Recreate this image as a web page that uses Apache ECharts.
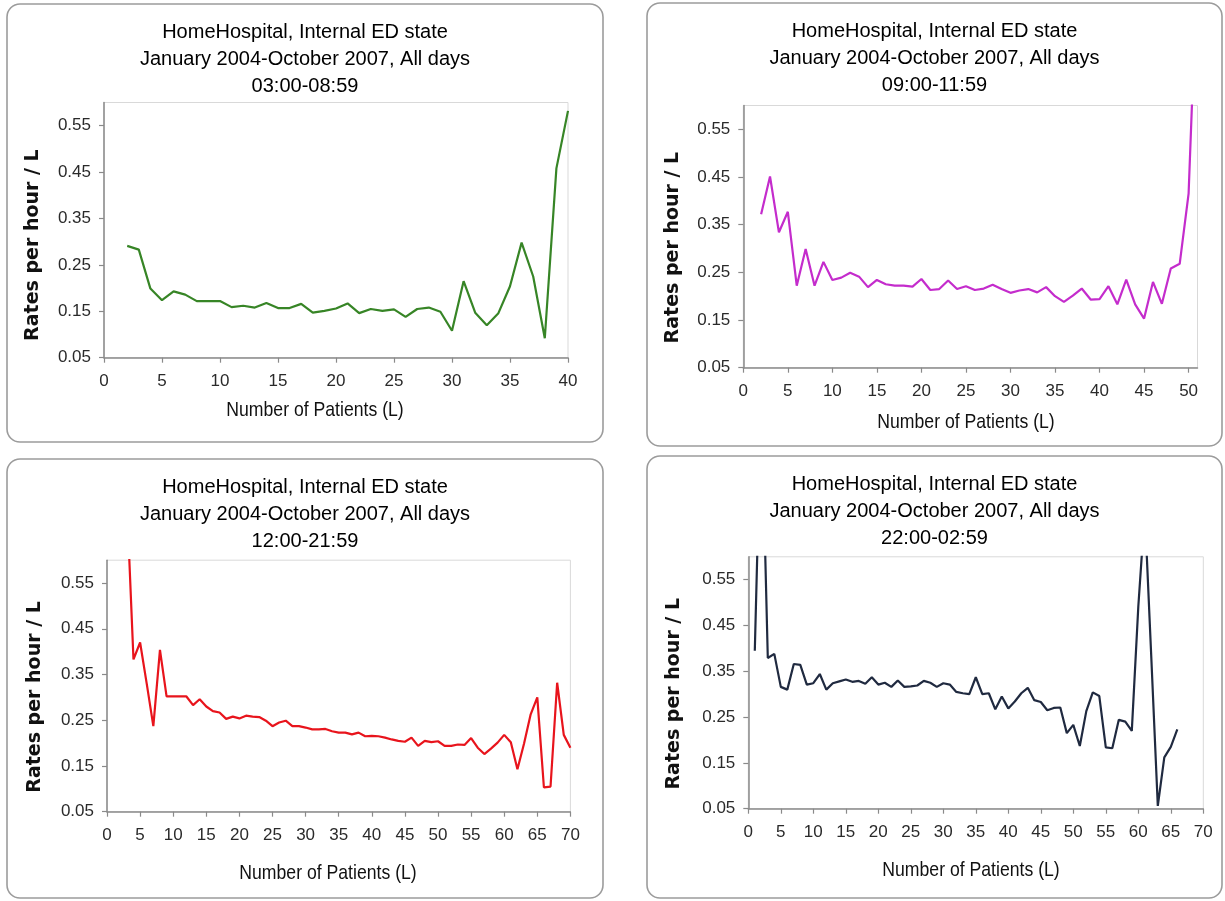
<!DOCTYPE html>
<html>
<head>
<meta charset="utf-8">
<script src="https://cdn.jsdelivr.net/npm/echarts@6/dist/echarts.min.js"></script>
<style>
  html, body { margin: 0; padding: 0; background: #ffffff; }
  #chart { width: 1225px; height: 901px; }
</style>
</head>
<body>
<div id="chart"></div>
<script>
// Shared text
const titleLine1 = 'HomeHospital, Internal ED state';
const titleLine2 = 'January 2004-October 2007, All days';
const shiftLabels = ['03:00-08:59', '09:00-11:59', '12:00-21:59', '22:00-02:59'];
const xAxisTitle = 'Number of Patients (L)';
const yAxisTitle = 'Rates per hour / L';

// Tick positions
const yTickValues = [0.05, 0.15, 0.25, 0.35, 0.45, 0.55];
const xTicks40 = [0, 5, 10, 15, 20, 25, 30, 35, 40];
const xTicks50 = [0, 5, 10, 15, 20, 25, 30, 35, 40, 45, 50];
const xTicks70 = [0, 5, 10, 15, 20, 25, 30, 35, 40, 45, 50, 55, 60, 65, 70];

// 03:00-08:59
const patientsEarly = [2, 3, 4, 5, 6, 7, 8, 9, 10, 11, 12, 13, 14, 15, 16, 17, 18, 19, 20,
  21, 22, 23, 24, 25, 26, 27, 28, 29, 30, 31, 32, 33, 34, 35, 36, 37, 38, 39, 40];
const ratesEarly = [0.291, 0.283, 0.199, 0.174, 0.193, 0.186, 0.172, 0.172, 0.172, 0.159,
  0.162, 0.158, 0.168, 0.157, 0.157, 0.166, 0.147, 0.151, 0.156, 0.167,
  0.146, 0.155, 0.151, 0.154, 0.138, 0.155, 0.158, 0.149, 0.108, 0.215,
  0.147, 0.120, 0.146, 0.204, 0.298, 0.225, 0.092, 0.458, 0.582];

// 09:00-11:59
const patientsMorning = [2, 3, 4, 5, 6, 7, 8, 9, 10, 11, 12, 13, 14, 15, 16, 17, 18, 19, 20,
  21, 22, 23, 24, 25, 26, 27, 28, 29, 30, 31, 32, 33, 34, 35, 36, 37, 38, 39, 40,
  41, 42, 43, 44, 45, 46, 47, 48, 49, 50, 51];
const ratesMorning = [0.372, 0.451, 0.334, 0.377, 0.222, 0.299, 0.222, 0.272, 0.234, 0.239,
  0.249, 0.241, 0.219, 0.234, 0.225, 0.222, 0.222, 0.220, 0.236, 0.213,
  0.215, 0.233, 0.215, 0.221, 0.213, 0.216, 0.224, 0.215, 0.207, 0.212,
  0.215, 0.208, 0.219, 0.200, 0.188, 0.201, 0.216, 0.193, 0.194, 0.221,
  0.183, 0.235, 0.183, 0.153, 0.230, 0.184, 0.258, 0.268, 0.415, 0.910];

// 12:00-21:59
const patientsDay = [3, 4, 5, 6, 7, 8, 9, 10, 11, 12, 13, 14, 15, 16, 17, 18, 19, 20,
  21, 22, 23, 24, 25, 26, 27, 28, 29, 30, 31, 32, 33, 34, 35, 36, 37, 38, 39, 40,
  41, 42, 43, 44, 45, 46, 47, 48, 49, 50, 51, 52, 53, 54, 55, 56, 57, 58, 59, 60,
  61, 62, 63, 64, 65, 66, 67, 68, 69, 70];
const ratesDay = [0.730, 0.383, 0.420, 0.330, 0.237, 0.404, 0.302, 0.302, 0.302, 0.302,
  0.283, 0.296, 0.280, 0.270, 0.267, 0.253, 0.258, 0.254, 0.260, 0.258,
  0.257, 0.249, 0.237, 0.245, 0.249, 0.237, 0.237, 0.234, 0.230, 0.230,
  0.231, 0.226, 0.223, 0.223, 0.219, 0.223, 0.215, 0.216, 0.215, 0.212,
  0.208, 0.205, 0.203, 0.212, 0.194, 0.205, 0.202, 0.204, 0.194, 0.194,
  0.197, 0.196, 0.211, 0.190, 0.176, 0.188, 0.201, 0.218, 0.202, 0.143,
  0.199, 0.263, 0.300, 0.103, 0.105, 0.332, 0.218, 0.190];

// 22:00-02:59
const patientsNight = [1, 2, 3, 4, 5, 6, 7, 8, 9, 10, 11, 12, 13, 14, 15, 16, 17, 18, 19, 20,
  21, 22, 23, 24, 25, 26, 27, 28, 29, 30, 31, 32, 33, 34, 35, 36, 37, 38, 39, 40,
  41, 42, 43, 44, 45, 46, 47, 48, 49, 50, 51, 52, 53, 54, 55, 56, 57, 58, 59, 60,
  61, 62, 63, 64, 65, 66];
const ratesNight = [0.395, 0.950, 0.379, 0.388, 0.316, 0.310, 0.366, 0.364, 0.321, 0.324,
  0.344, 0.310, 0.324, 0.328, 0.332, 0.327, 0.329, 0.323, 0.337, 0.321,
  0.325, 0.316, 0.330, 0.316, 0.317, 0.319, 0.329, 0.325, 0.316, 0.324,
  0.321, 0.305, 0.302, 0.300, 0.337, 0.300, 0.302, 0.267, 0.295, 0.269,
  0.284, 0.302, 0.314, 0.287, 0.283, 0.265, 0.270, 0.271, 0.215, 0.233,
  0.187, 0.263, 0.304, 0.296, 0.184, 0.182, 0.244, 0.240, 0.220, 0.491,
  0.700, 0.380, 0.056, 0.162, 0.185, 0.223];

const SANS = "'Liberation Sans', Arial, sans-serif";

// Panel layout: frame box, plot box, axis range, colour, x-axis title centre
const panels = [
  { frame: [7, 4, 596, 438], grid: [104, 102.5, 464, 255.2], xMax: 40, xTicks: xTicks40,
    patients: patientsEarly, rates: ratesEarly, color: '#378526', yGap: 61, yShift: 30, xName: [315, 410] },
  { frame: [647, 3, 575, 443], grid: [743.3, 105.5, 454.2, 262.2], xMax: 51, xTicks: xTicks50,
    patients: patientsMorning, rates: ratesMorning, color: '#c42ccc', yGap: 61, yShift: 22, xName: [966, 422] },
  { frame: [7, 459, 596, 439], grid: [107, 560.2, 463.4, 251.5], xMax: 70, xTicks: xTicks70,
    patients: patientsDay, rates: ratesDay, color: '#e8141c', yGap: 62, yShift: 22, xName: [328, 873] },
  { frame: [647, 456, 575, 442], grid: [748.3, 556.8, 455, 251.9], xMax: 70, xTicks: xTicks70,
    patients: patientsNight, rates: ratesNight, color: '#202a40', yGap: 65, yShift: 22, xName: [971, 870] }
];

const chart = echarts.init(document.getElementById('chart'), null, { renderer: 'canvas' });

// Rounded panel frames
const frameGraphics = panels.map(p => ({
  type: 'rect',
  shape: { x: p.frame[0], y: p.frame[1], width: p.frame[2], height: p.frame[3], r: 13 },
  style: { fill: '#ffffff', stroke: '#9c9c9c', lineWidth: 1.6 },
  z: -10
}));

// Condensed x-axis titles
const xTitleGraphics = panels.map(p => ({
  type: 'text',
  x: p.xName[0], y: p.xName[1],
  scaleX: 0.84,
  style: {
    text: xAxisTitle, fontFamily: SANS, fontSize: 21, fill: '#111111',
    align: 'center', verticalAlign: 'middle'
  },
  z: 10
}));

const option = {
  animation: false,
  backgroundColor: '#ffffff',
  graphic: frameGraphics.concat(xTitleGraphics),
  title: panels.map((p, i) => ({
    text: titleLine1 + '\n' + titleLine2 + '\n' + shiftLabels[i],
    left: p.frame[0] + p.frame[2] / 2,
    top: p.frame[1] + 15,
    textAlign: 'center',
    padding: 0,
    textStyle: { fontFamily: SANS, fontSize: 20, fontWeight: 'normal', color: '#000000', lineHeight: 27 }
  })),
  grid: panels.map(p => ({
    left: p.grid[0], top: p.grid[1], width: p.grid[2], height: p.grid[3],
    show: true, borderColor: '#d9d9d9', borderWidth: 1, backgroundColor: 'transparent'
  })),
  xAxis: panels.map((p, i) => ({
    type: 'value', gridIndex: i, min: 0, max: p.xMax,
    axisLine: { show: true, onZero: false, lineStyle: { color: '#8a8a8a', width: 1.5 } },
    axisTick: { show: true, length: 5, customValues: p.xTicks, lineStyle: { color: '#8a8a8a', width: 1.2 } },
    axisLabel: { customValues: p.xTicks, margin: 15, fontFamily: SANS, fontSize: 17, color: '#2a2a2a' },
    splitLine: { show: false }
  })),
  yAxis: panels.map((p, i) => ({
    type: 'value', gridIndex: i, min: 0.05, max: 0.6,
    name: yAxisTitle, nameLocation: 'middle', nameGap: p.yGap, nameRotate: 90,
    nameTextStyle: { fontFamily: "'DejaVu Sans', sans-serif", fontSize: 19, fontWeight: 'bold', color: '#111111',
      padding: [0, p.yShift, 0, 0] },
    axisLine: { show: true, onZero: false, lineStyle: { color: '#8a8a8a', width: 1.5 } },
    axisTick: { show: true, length: 5, customValues: yTickValues, lineStyle: { color: '#8a8a8a', width: 1.2 } },
    axisLabel: { customValues: yTickValues, margin: 13, fontFamily: SANS, fontSize: 17, color: '#2a2a2a',
      formatter: v => v.toFixed(2) },
    splitLine: { show: false }
  })),
  series: panels.map((p, i) => ({
    type: 'line', xAxisIndex: i, yAxisIndex: i,
    data: p.patients.map((n, k) => [n, p.rates[k]]),
    showSymbol: false, clip: true,
    lineStyle: { color: p.color, width: 2.2 },
    itemStyle: { color: p.color }
  }))
};

chart.setOption(option);
</script>
</body>
</html>
